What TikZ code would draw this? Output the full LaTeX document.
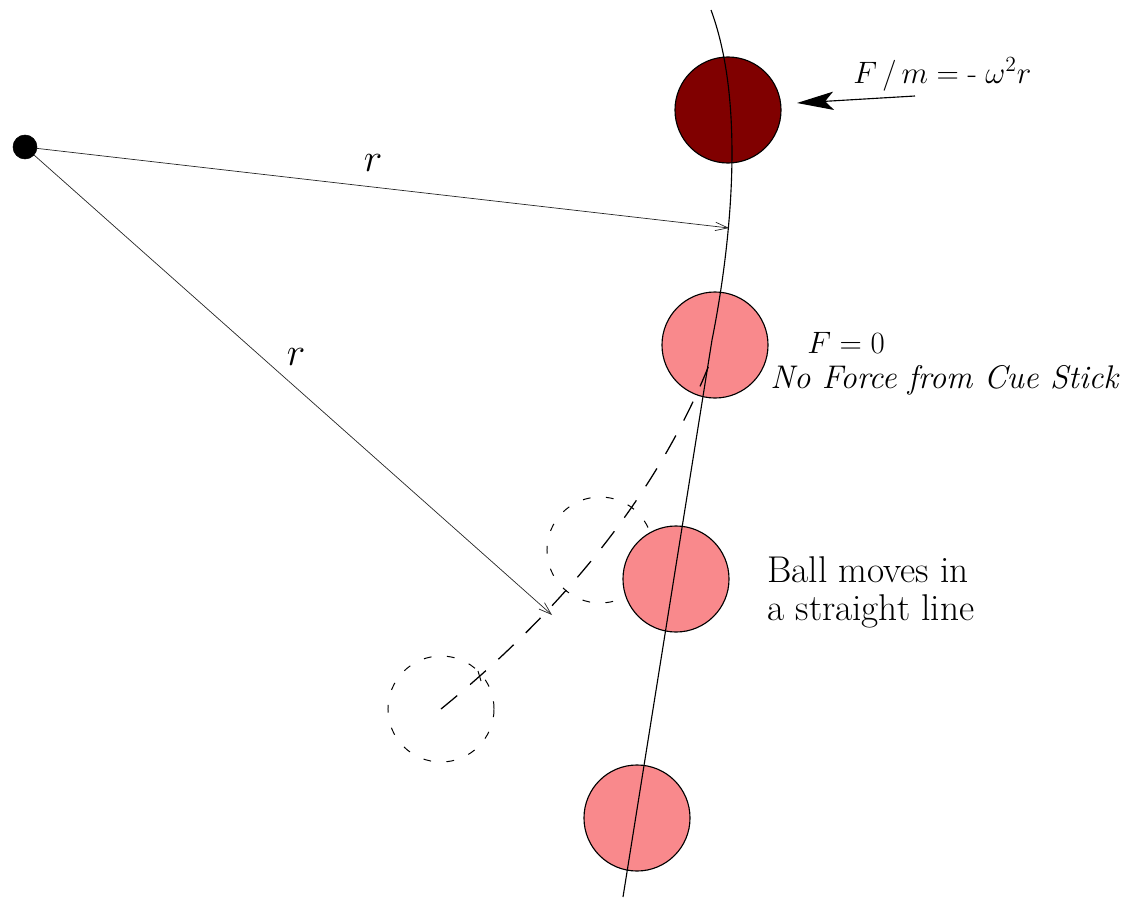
\RequirePackage{fix-cm}
\documentclass[tikz,border=0pt]{standalone}
\usepackage{fontspec}
\usetikzlibrary{arrows.meta}
\definecolor{ballpink}{RGB}{249,137,140}
\definecolor{balldark}{RGB}{128,0,0}
\begin{document}
\begin{tikzpicture}[x=0.025cm,y=-0.025cm,
  ballnode/.style={circle,draw=black,line width=0.8pt,minimum size=2.65cm,inner sep=0pt},
  ghost/.style={circle,draw=black,line width=0.7pt,dash pattern=on 5.5pt off 11pt,minimum size=2.65cm,inner sep=0pt},
  centerdot/.style={circle,fill=black,draw=black,minimum size=0.6cm,inner sep=0pt},
  radius arrow/.style={line width=0.5pt,draw=black!85,-{Straight Barb[length=9pt,width=6pt]}},
  force arrow/.style={line width=0.8pt,-{Stealth[length=26pt,width=13pt,inset=6pt]}},
  lbl/.style={inner sep=0pt,font=\fontsize{22}{26}\selectfont},
  biglbl/.style={inner sep=0pt,font=\fontsize{28}{32}\selectfont},
  path line/.style={line width=0.8pt},
  straight dash/.style={line width=0.9pt,dash pattern=on 15pt off 12pt}]
\useasboundingbox (0,0) rectangle (1132,900);

% ghost (dashed) positions
\node[ghost] (g1) at (600,550) {};
\node[ghost] (g2) at (441,709) {};

% balls
\node[ballnode,fill=balldark] (b1) at (728,110) {};
\node[ballnode,fill=ballpink] (b2) at (715,345) {};
\node[ballnode,fill=ballpink] (b3) at (676,579) {};
\node[ballnode,fill=ballpink] (b4) at (637,818) {};

% trajectory
\draw[path line] (711,10) .. controls (748,110) and (728,260) .. (712,340) -- (623,897);

% straight-line (dashed) path
\coordinate (dend) at (713,355);
\draw[straight dash] (g2.center) .. controls (575,600) and (665,480) .. (dend);
\draw[line width=0.7pt] (478,671) -- (481,681);

% centre and radius arrows
\node[centerdot] (O) at (25,147) {};
\coordinate (rtip1) at (729,228);
\coordinate (rtip2) at (552,615);
\draw[radius arrow] (O) -- (rtip1);
\draw[radius arrow] (O) -- (rtip2);
\node[biglbl] (r1) at (373,163) {$r$};
\node[biglbl] (r2) at (296,357) {$r$};

% force arrow
\coordinate (ftail) at (915,96);
\coordinate (ftip) at (797,103);
\draw[force arrow] (ftail) -- (ftip);

% labels
\node[lbl,anchor=base west] (fm) at (853,83) {$F\,/\,m = \mbox{-}\;\omega^{2}r$};
\node[lbl,anchor=base west] (fzero) at (807,353) {$F=0$};
\node[lbl,anchor=base west,font=\fontsize{23.3}{27}\selectfont] (noforce) at (770,388) {\itshape No Force from Cue Stick};
\node[lbl,anchor=base west,font=\fontsize{26.5}{30}\selectfont] (ballA) at (767,582) {Ball moves in};
\node[lbl,anchor=base west,font=\fontsize{26.5}{30}\selectfont] (ballB) at (767,620) {a straight line};
\end{tikzpicture}
\end{document}
